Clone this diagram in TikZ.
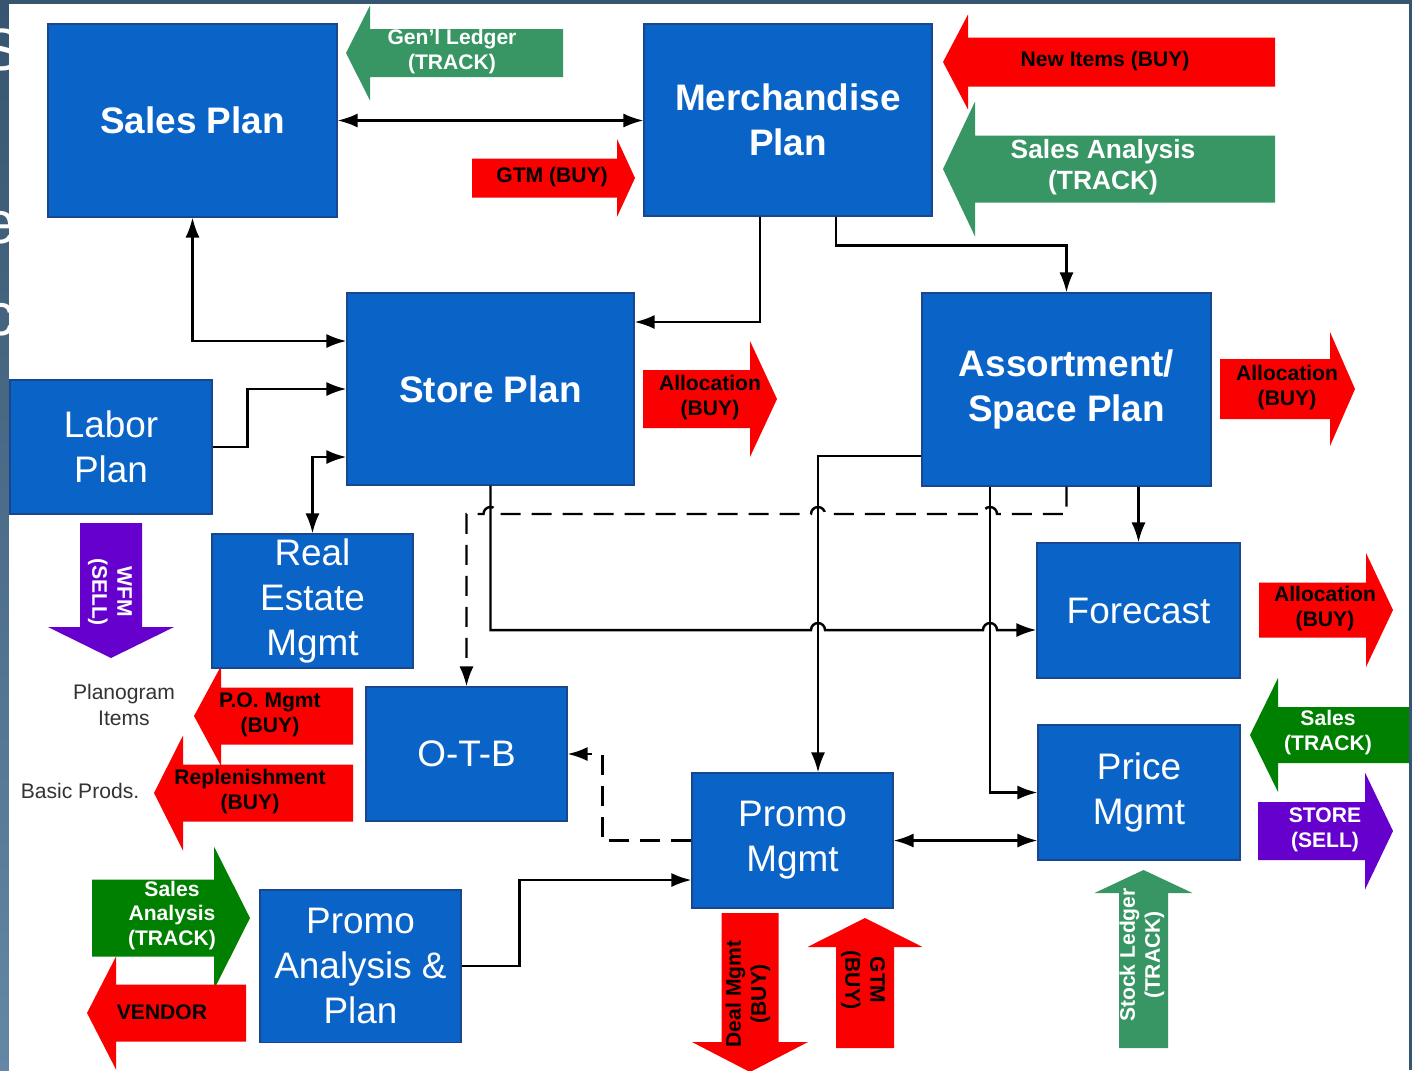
\documentclass[tikz,border=0pt]{standalone}
\usepackage{fontspec}
\setmainfont{Liberation Sans}
\usepackage{xcolor}
\usepackage{tikz}
\usetikzlibrary{arrows, arrows.meta}
\usetikzlibrary{positioning}
\usetikzlibrary{calc}

\definecolor{planBlue}{RGB}{10,100,200}
\definecolor{planEdge}{RGB}{25,70,140}
\definecolor{buyRed}{RGB}{250,0,0}
\definecolor{trackTeal}{RGB}{55,150,100}
\definecolor{trackGreen}{RGB}{0,128,0}
\definecolor{sellPurple}{RGB}{102,0,204}
\definecolor{frameDark}{RGB}{55,85,112}
\definecolor{frameLight}{RGB}{100,135,165}

\begin{document}
\begin{tikzpicture}[
		planBox/.style={rectangle, draw=planEdge, line width=0.3pt, fill=planBlue, text=white, align=center, inner sep=0pt, font=\bfseries\fontsize{10.5}{12.8}\selectfont},
		unitBox/.style={planBox, font=\fontsize{10.5}{12.8}\selectfont},
		arrowTag/.style={align=center, inner sep=0pt, font=\bfseries\fontsize{6}{7.1}\selectfont},
		sideNote/.style={align=center, inner sep=0pt, text=black!80, font=\fontsize{6}{7.3}\selectfont},
		flowLine/.style={line width=0.7pt, -{Latex[length=2mm, width=1.4mm]}},
		bothLine/.style={line width=0.7pt, {Latex[length=2mm, width=1.4mm]}-{Latex[length=2mm, width=1.4mm]}},
		dashLine/.style={flowLine, dash pattern=on 2mm off 1.1mm}]
			\useasboundingbox (0,0) rectangle (14.12,-10.70);
			\fill[white] (0,0) rectangle (14.12,-10.70);

			\foreach \tailX/\tailY/\ang/\len/\headLen/\bodyW/\headW/\col in {
				5.63/-0.53/180/2.17/0.24/0.48/0.95/trackTeal,
				12.75/-0.62/180/3.32/0.25/0.49/0.95/buyRed,
				12.75/-1.69/180/3.32/0.32/0.67/1.35/trackTeal,
				4.72/-1.78/0/1.63/0.18/0.39/0.78/buyRed,
				6.43/-3.99/0/1.34/0.27/0.58/1.16/buyRed,
				12.20/-3.89/0/1.35/0.25/0.60/1.14/buyRed,
				12.59/-6.10/0/1.34/0.27/0.55/1.14/buyRed,
				14.10/-7.35/180/1.60/0.28/0.56/1.14/trackGreen,
				12.58/-8.31/0/1.35/0.28/0.58/1.17/sellPurple,
				11.435/-10.48/90/1.78/0.23/0.49/0.98/trackTeal,
				8.65/-10.48/90/1.30/0.29/0.58/1.15/buyRed,
				7.50/-9.13/270/1.59/0.30/0.57/1.16/buyRed,
				1.11/-5.23/270/1.35/0.31/0.62/1.26/sellPurple,
				3.53/-7.16/180/1.59/0.27/0.57/1.00/buyRed,
				3.53/-7.93/180/1.99/0.29/0.57/1.15/buyRed,
				0.92/-9.18/0/1.58/0.36/0.77/1.43/trackGreen,
				2.46/-10.13/180/1.59/0.29/0.57/1.13/buyRed}
			{
				\fill[fill=\col, shift={(\tailX,\tailY)}, rotate=\ang] (0,-\bodyW/2) -- (\len-\headLen,-\bodyW/2) -- (\len-\headLen,-\headW/2) -- (\len,0) -- (\len-\headLen,\headW/2) -- (\len-\headLen,\bodyW/2) -- (0,\bodyW/2) -- cycle;
			}

			\node[arrowTag, text=white] (ledgerTag) at (4.52,-0.515) {Gen'l Ledger\\(TRACK)};
			\node[arrowTag] (newItemsTag) at (11.05,-0.61) {New Items (BUY)};
			\node[arrowTag, text=white, font=\bfseries\fontsize{7.5}{8.8}\selectfont] (analysisTag) at (11.03,-1.675) {Sales Analysis\\(TRACK)};
			\node[arrowTag] (gtmTag) at (5.52,-1.77) {GTM (BUY)};
			\node[arrowTag] (allocStoreTag) at (7.10,-3.975) {Allocation\\(BUY)};
			\node[arrowTag] (allocAssortTag) at (12.87,-3.88) {Allocation\\(BUY)};
			\node[arrowTag] (allocForecastTag) at (13.25,-6.085) {Allocation\\(BUY)};
			\node[arrowTag, text=white] (salesTag) at (13.28,-7.33) {Sales\\(TRACK)};
			\node[arrowTag, text=white] (storeTag) at (13.25,-8.30) {STORE\\(SELL)};
			\node[arrowTag, text=white, rotate=90] (ledgerUpTag) at (11.42,-9.55) {Stock Ledger\\(TRACK)};
			\node[arrowTag, rotate=-90] (gtmUpTag) at (8.63,-9.80) {GTM\\(BUY)};
			\node[arrowTag, rotate=90] (dealTag) at (7.48,-9.94) {Deal Mgmt\\(BUY)};
			\node[arrowTag, text=white, rotate=-90] (wfmTag) at (1.10,-5.92) {WFM\\(SELL)};
			\node[arrowTag] (poTag) at (2.70,-7.15) {P.O. Mgmt\\(BUY)};
			\node[arrowTag] (replenTag) at (2.50,-7.915) {Replenishment\\(BUY)};
			\node[arrowTag, text=white] (promoTrackTag) at (1.72,-9.155) {Sales\\Analysis\\(TRACK)};
			\node[arrowTag] (vendorTag) at (1.62,-10.12) {VENDOR};
			\node[sideNote] (planogram) at (1.24,-7.05) {Planogram\\Items};
			\node[sideNote] (basicProds) at (0.80,-7.91) {Basic Prods.};

			\node[planBox, minimum width=2.89cm, minimum height=1.93cm] (salesPlan) at (1.925,-1.205) {Sales Plan};
			\node[planBox, minimum width=2.88cm, minimum height=1.92cm] (merchPlan) at (7.88,-1.20) {Merchandise\\Plan};
			\node[planBox, minimum width=2.87cm, minimum height=1.92cm] (storePlan) at (4.905,-3.89) {Store Plan};
			\node[planBox, minimum width=2.89cm, minimum height=1.93cm] (assortPlan) at (10.665,-3.895) {Assortment/\\Space Plan};
			\node[unitBox, minimum width=2.02cm, minimum height=1.34cm] (laborPlan) at (1.11,-4.47) {Labor\\Plan};
			\node[unitBox, minimum width=2.01cm, minimum height=1.34cm] (estateMgmt) at (3.125,-6.01) {Real\\Estate\\Mgmt};
			\node[unitBox, minimum width=2.01cm, minimum height=1.34cm] (otb) at (4.665,-7.54) {O-T-B};
			\node[unitBox, minimum width=2.03cm, minimum height=1.35cm] (forecast) at (11.385,-6.105) {Forecast};
			\node[unitBox, minimum width=2.02cm, minimum height=1.35cm] (priceMgmt) at (11.39,-7.925) {Price\\Mgmt};
			\node[unitBox, minimum width=2.01cm, minimum height=1.35cm] (promoMgmt) at (7.925,-8.405) {Promo\\Mgmt};
			\node[unitBox, minimum width=2.01cm, minimum height=1.52cm] (promoPlan) at (3.605,-9.66) {Promo\\Analysis \&\\Plan};

			\draw[bothLine] (salesPlan.east) -- (salesPlan.east -| merchPlan.west);
			\draw[bothLine] (salesPlan.south) |- ([yshift=4.8mm]storePlan.west);
			\draw[flowLine] ([xshift=-2.8mm]merchPlan.south) |- ([yshift=6.7mm]storePlan.east);
			\draw[flowLine] ([xshift=4.8mm]merchPlan.south) -- ++(0,-0.29) -| (assortPlan.north);
			\draw[flowLine] (laborPlan.east) -- ++(0.35,0) |- (storePlan.west);
			\draw[bothLine] (estateMgmt.north) |- ([yshift=-6.8mm]storePlan.west);
			\draw[flowLine] ([yshift=-6.65mm]assortPlan.west) -| ([xshift=2.55mm]promoMgmt.north);
			\draw[flowLine] ([xshift=-7.65mm]assortPlan.south) |- (priceMgmt.west);
			\draw[flowLine] (assortPlan.south -| forecast.north) -- (forecast.north);
			\draw[bothLine] (promoMgmt.east) -- (promoMgmt.east -| priceMgmt.west);
			\draw[flowLine] (promoPlan.east) -- ++(0.58,0) |- ([yshift=-3.95mm]promoMgmt.west);
			\draw[dashLine] (promoMgmt.west) -- ++(-0.89,0) |- (otb.east);
			\draw[flowLine] (storePlan.south) -- (4.905,-6.30) -- (8.11,-6.30) arc[start angle=180, end angle=0, radius=0.07] -- (9.83,-6.30) arc[start angle=180, end angle=0, radius=0.07] -- ([yshift=-1.95mm]forecast.west);
			\draw[dashLine] (assortPlan.south) -- (10.665,-5.14) -- (9.97,-5.14) arc[start angle=0, end angle=180, radius=0.07] -- (8.25,-5.14) arc[start angle=0, end angle=180, radius=0.07] -- (4.975,-5.14) arc[start angle=0, end angle=180, radius=0.07] -| (otb.north);

			\fill[frameDark] (0,0) rectangle (14.12,-0.04);
			\shade[top color=frameDark, bottom color=frameLight] (0,-0.04) rectangle (0.09,-10.70);
			\fill[frameDark] (14.09,-0.04) rectangle (14.12,-10.70);
			\node[text=white, font=\fontsize{17}{20}\selectfont] (edgeS) at (0.01,-0.50) {S};
			\node[text=white, font=\fontsize{17}{20}\selectfont] (edgeE) at (0.00,-2.28) {e};
			\node[text=white, font=\fontsize{17}{20}\selectfont] (edgeC) at (0.00,-3.20) {c};
		\end{tikzpicture}
\end{document}
